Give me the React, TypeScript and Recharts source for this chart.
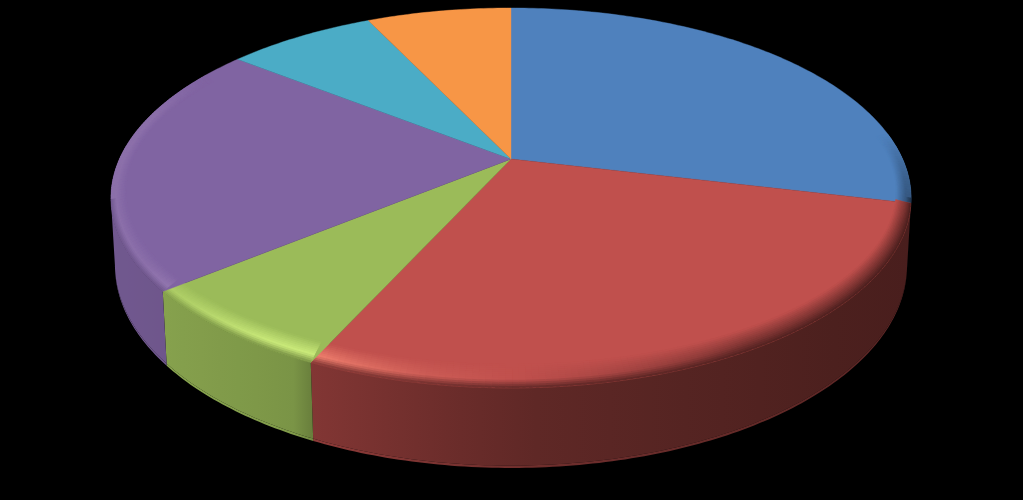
import React from "react";
import { PieChart, Pie } from "recharts";

const categories = ["A", "B", "C", "D", "E", "F"];
const values = [28.7, 28.1, 7.25, 21.5, 7.3, 7.1];
const colors = ["#4f81bd", "#c0504d", "#9bbb59", "#8064a2", "#4bacc6", "#f79646"];

const pieData = categories.map((name, i) => ({ name, value: values[i], fill: colors[i] }));

// perspective of the tilted disc
const K = 0.205;
const M = 0.01;
const A = 391.6;
const B = 149.4;
const H = 68.3;

type Rgb = [number, number, number];

const project = (cx: number, cy: number, u: number, v: number, z: number): [number, number] => {
  const w = 1 + K * v + M * z;
  return [cx + (A * u) / w, (cy - B * v + H * z) / w];
};

const hexToRgb = (hex: string): Rgb => [
  parseInt(hex.slice(1, 3), 16),
  parseInt(hex.slice(3, 5), 16),
  parseInt(hex.slice(5, 7), 16),
];
const mix = (a: Rgb, b: Rgb, t: number): Rgb => [
  a[0] + (b[0] - a[0]) * t,
  a[1] + (b[1] - a[1]) * t,
  a[2] + (b[2] - a[2]) * t,
];
const css = (c: Rgb) =>
  `rgb(${Math.min(255, Math.round(c[0]))},${Math.min(255, Math.round(c[1]))},${Math.min(255, Math.round(c[2]))})`;
const scale = (c: Rgb, s: number): Rgb => [c[0] * s, c[1] * s, c[2] * s];

const table = (rows: number[][], x: number) => {
  if (x <= rows[0][0]) return rows[0][1];
  for (let i = 1; i < rows.length; i++) {
    if (x <= rows[i][0]) {
      const t = (x - rows[i - 1][0]) / (rows[i][0] - rows[i - 1][0]);
      return rows[i - 1][1] + (rows[i][1] - rows[i - 1][1]) * t;
    }
  }
  return rows[rows.length - 1][1];
};

// wall brightness by screen x, the red wall starts darker than the green one
const wallShade = (x: number) =>
  x < 310 ? table([[115, 0.88], [170, 0.86], [310, 0.78]], x) : table([[310, 0.68], [520, 0.5], [880, 0.38]], x);

// bevel light by clockwise angle from the top: plus adds light, minus goes to black
const bevelRows = [
  [82, 0], [96, -0.25], [110, -0.4], [150, -0.35], [172, -0.08], [190, 0.12],
  [200, 0.35], [205, 0.48], [212, 0.45], [226, 0.22], [238, 0.12], [285, 0.12], [300, 0],
];

const pathOf = (pts: number[][]) =>
  "M" + pts.map((p) => `${p[0].toFixed(2)},${p[1].toFixed(2)}`).join("L") + "Z";

function DiscSlice(props: any) {
  const { cx, cy, startAngle, endAngle, fill } = props;
  const face = hexToRgb(fill);
  const steps = Math.max(2, Math.ceil(Math.abs(endAngle - startAngle) / 0.8));
  const step = (endAngle - startAngle) / steps;
  const angles: number[] = [];
  for (let i = 0; i <= steps; i++) angles.push(startAngle + step * i);
  const pt = (deg: number, z = 0, ru = 1, rv = 1) => {
    const r = (deg * Math.PI) / 180;
    return project(cx, cy, Math.cos(r) * ru, Math.sin(r) * rv, z);
  };
  const isFront = (deg: number) => Math.sin((deg * Math.PI) / 180) < -K;

  // wall: one path per slice, shaded left to right with a gradient
  const frontAngles = angles.filter(isFront);
  let wallNode: React.ReactNode = null;
  if (frontAngles.length > 1) {
    const id = `wall-${fill.slice(1)}`;
    const xs = frontAngles.map((a) => pt(a, 0.5)[0]);
    const x0 = Math.min(...xs);
    const x1 = Math.max(...xs);
    const stops = Array.from({ length: 9 }, (_, i) => x0 + ((x1 - x0) * i) / 8);
    const upper = frontAngles.map((a) => pt(a, 0));
    const middle = frontAngles.map((a) => pt(a, 0.97));
    const lower = frontAngles.map((a) => pt(a, 1));
    wallNode = (
      <>
        <defs>
          <linearGradient id={id} gradientUnits="userSpaceOnUse" x1={x0} x2={x1} y1={0} y2={0}>
            {stops.map((x, i) => (
              <stop key={i} offset={i / 8} stopColor={css(scale(face, wallShade(x)))} />
            ))}
          </linearGradient>
          <linearGradient id={`${id}-low`} gradientUnits="userSpaceOnUse" x1={x0} x2={x1} y1={0} y2={0}>
            {stops.map((x, i) => (
              <stop key={i} offset={i / 8} stopColor={css(mix(scale(face, wallShade(x)), face, 0.16))} />
            ))}
          </linearGradient>
        </defs>
        <path d={pathOf([...upper, ...[...middle].reverse()])} fill={`url(#${id})`} />
        <path d={pathOf([...middle, ...[...lower].reverse()])} fill={`url(#${id}-low)`} />
      </>
    );
  }

  const bevels: React.ReactNode[] = [];
  const layers = 12;
  for (let i = 0; i < steps; i++) {
    const a0 = angles[i];
    const a1 = i === steps - 1 ? angles[i + 1] : angles[i + 1] + step * 0.5;
    const mid = (angles[i] + angles[i + 1]) / 2;
    const front = isFront(mid);
    const wall = scale(face, wallShade(pt(mid, 0.5)[0]));
    const phi = ((90 - mid) % 360 + 360) % 360;
    const amt = table(bevelRows, phi);
    if (amt === 0) continue;
    const ridge: Rgb =
      amt > 0 ? [face[0] + 100 * amt, face[1] + 100 * amt, face[2] + 70 * amt] : mix(face, [0, 0, 0], -amt);
    for (let l = 0; l < layers; l++) {
      const t0 = l / layers;
      const t1 = Math.min(1, (l + 1.5) / layers);
      const tm = (l + 0.5) / layers;
      const col = tm < 0.65 ? mix(face, ridge, tm / 0.65) : mix(ridge, front ? wall : ridge, (tm - 0.65) / 0.35);
      const ru0 = 1 - 0.035 * (1 - t0);
      const rv0 = 1 - 0.085 * (1 - t0);
      const ru1 = 1 - 0.035 * (1 - t1);
      const rv1 = 1 - 0.085 * (1 - t1);
      bevels.push(
        <path
          key={`b${i}-${l}`}
          d={pathOf([pt(a0, 0, ru0, rv0), pt(a1, 0, ru0, rv0), pt(a1, 0, ru1, rv1), pt(a0, 0, ru1, rv1)])}
          fill={css(col)}
        />
      );
    }
  }

  const top = [project(cx, cy, 0, 0, 0), ...angles.map((a) => pt(a))];
  return (
    <g>
      {wallNode}
      <path d={pathOf(top)} fill={fill} stroke={fill} strokeWidth={0.4} />
      {bevels}
    </g>
  );
}

export default function App() {
  return (
    <div style={{ position: "fixed", left: 0, top: 0, width: 1023, height: 500, background: "#000", overflow: "hidden" }}>
      <PieChart width={1023} height={500} margin={{ top: 0, right: 0, bottom: 0, left: 0 }}>
        <Pie
          data={pieData}
          dataKey="value"
          nameKey="name"
          cx={511}
          cy={159}
          outerRadius={150}
          startAngle={90}
          endAngle={-270}
          stroke="none"
          shape={DiscSlice}
          isAnimationActive={false}
        />
      </PieChart>
    </div>
  );
}
